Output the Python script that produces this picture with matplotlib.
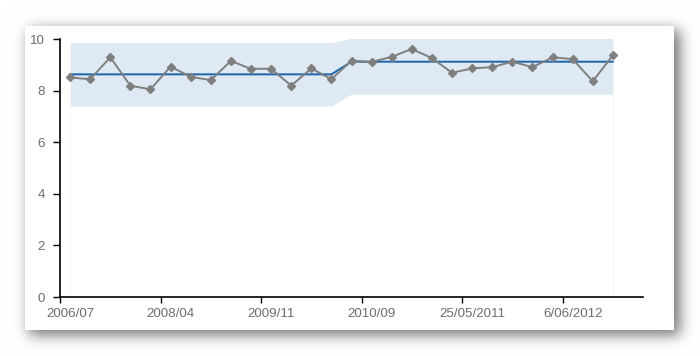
import numpy as np
import matplotlib
matplotlib.use("Agg")
import matplotlib.pyplot as plt
from matplotlib.patches import Rectangle

plt.rcParams['font.family'] = ['Liberation Sans', 'DejaVu Sans']

# values
values = [8.51, 8.44, 9.29, 8.19, 8.05, 8.93, 8.53, 8.41, 9.15, 8.84,
          8.85, 8.19, 8.86, 8.44, 9.16, 9.11, 9.31, 9.61, 9.26, 8.69,
          8.86, 8.91, 9.12, 8.91, 9.29, 9.22, 8.36, 9.37]
mean_line = [8.63] * 14 + [9.12] * 14
upper_band = [9.86] * 14 + [10.03] * 14
lower_band = [7.41] * 14 + [7.87] * 14
n_categories = 29
tick_labels = ['2006/07', '2008/04', '2009/11', '2010/09', '25/05/2011', '6/06/2012']
label_every = 5

W, H = 700, 356
fig = plt.figure(figsize=(W / 100, H / 100), dpi=100)

# card with a soft drop shadow behind the chart
bg = fig.add_axes([0, 0, 1, 1])
bg.set_axis_off()
mask = np.zeros((H, W))
mask[30:335, 29:680] = 1.0
k = np.exp(-0.5 * (np.arange(-24, 25) / 7.0) ** 2)
k /= k.sum()
mask = np.apply_along_axis(lambda r: np.convolve(r, k, mode='same'), 1, mask)
mask = np.apply_along_axis(lambda c: np.convolve(c, k, mode='same'), 0, mask)
shade = 1 - 0.55 * mask
bg.imshow(np.dstack([shade] * 3), extent=(0, W, H, 0), aspect='auto')
bg.add_patch(Rectangle((25, 26), 649, 304, facecolor='white', edgecolor='none'))
bg.set_xlim(0, W)
bg.set_ylim(H, 0)

ax = fig.add_axes([60 / W, 59 / H, 583 / W, 258 / H])
ax.patch.set_alpha(0)
x = np.arange(len(values))

ax.fill_between(x, 0, lower_band, facecolor='white', lw=0.5, edgecolor='#f6f6f6')
ax.fill_between(x, lower_band, upper_band, color='#dfe9f3', lw=0)
ax.plot(x, mean_line, color='#1b64a9', lw=1.4, zorder=3)
ax.plot(x, values, color='#7f7f7f', lw=1.4, marker='D', ms=4.5, zorder=4)

ax.set_xlim(-0.5, n_categories - 0.5)
ax.set_ylim(0, 10)
ax.set_yticks(range(0, 11, 2))
ax.set_xticks(np.arange(-0.5, n_categories - 0.5, label_every))
ax.set_xticklabels([])
ax.set_xticks(np.arange(0, n_categories, label_every)[:len(tick_labels)], minor=True)
ax.set_xticklabels(tick_labels, minor=True)
ax.tick_params(axis='x', which='minor', length=0, pad=8, labelsize=9.6, labelcolor='#6e6e6e')
ax.tick_params(axis='x', which='major', length=4, width=1, direction='out')
ax.tick_params(axis='y', length=5, width=1, direction='out', pad=6, labelsize=9.6, labelcolor='#6e6e6e')

for s in ['top', 'right']:
    ax.spines[s].set_visible(False)
for s in ['left', 'bottom']:
    ax.spines[s].set_linewidth(1.2)
    ax.spines[s].set_color('black')

fig.savefig('out.png', dpi=100)
